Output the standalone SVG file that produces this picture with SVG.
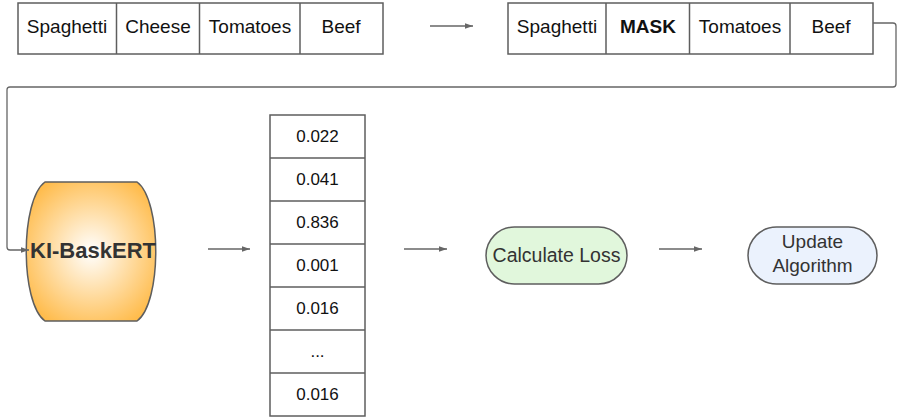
<svg xmlns="http://www.w3.org/2000/svg" width="898" height="420" viewBox="0 0 898 420">
<style>
.box{fill:#ffffff;stroke:#5e5e5e;stroke-width:1.5}
.t{font-family:"Liberation Sans",Arial,sans-serif;font-size:19px;fill:#111;text-anchor:middle}
.n{font-family:"Liberation Sans",Arial,sans-serif;font-size:17px;fill:#111;text-anchor:middle}
.c{fill:none;stroke:#666;stroke-width:1.3}
</style>
<defs>
<marker id="ah" viewBox="0 0 10 10" refX="10" refY="5" markerWidth="8" markerHeight="8" markerUnits="userSpaceOnUse" orient="auto">
<path d="M0,1.5 L10,5 L0,8.5 Z" fill="#666"/>
</marker>
<radialGradient id="og" cx="0.5" cy="0.5" r="0.6">
<stop offset="0" stop-color="#ffffff"/>
<stop offset="1" stop-color="#ffbb4a"/>
</radialGradient>
</defs>
<g id="input-sequence">
<rect class="box" x="18" y="3" width="365" height="51"/>
<line class="box" x1="116.5" y1="3" x2="116.5" y2="54"/>
<line class="box" x1="199.5" y1="3" x2="199.5" y2="54"/>
<line class="box" x1="300" y1="3" x2="300" y2="54"/>
<text class="t" x="67" y="33">Spaghetti</text>
<text class="t" x="158" y="33">Cheese</text>
<text class="t" x="250" y="33">Tomatoes</text>
<text class="t" x="341" y="33">Beef</text>
</g>
<g id="masked-sequence">
<rect class="box" x="508" y="3" width="365" height="51"/>
<line class="box" x1="606" y1="3" x2="606" y2="54"/>
<line class="box" x1="689.5" y1="3" x2="689.5" y2="54"/>
<line class="box" x1="790" y1="3" x2="790" y2="54"/>
<text class="t" x="557" y="33">Spaghetti</text>
<text class="t" x="648" y="33" font-weight="bold">MASK</text>
<text class="t" x="740" y="33">Tomatoes</text>
<text class="t" x="831" y="33">Beef</text>
</g>
<g id="ki-baskert">
<path d="M45,182 H137 C162,200 162,303 137,321 H45 C20,303 20,200 45,182 Z" fill="url(#og)" stroke="#5e5e5e" stroke-width="1.5"/>
<text x="93" y="258" font-family="Liberation Sans,Arial,sans-serif" font-size="22" font-weight="bold" fill="#333" text-anchor="middle">KI-BaskERT</text>
</g>
<g id="probabilities">
<rect class="box" x="270" y="115" width="95" height="301"/>
<line class="box" x1="270" y1="158" x2="365" y2="158"/>
<line class="box" x1="270" y1="201" x2="365" y2="201"/>
<line class="box" x1="270" y1="244" x2="365" y2="244"/>
<line class="box" x1="270" y1="287" x2="365" y2="287"/>
<line class="box" x1="270" y1="330" x2="365" y2="330"/>
<line class="box" x1="270" y1="373" x2="365" y2="373"/>
<text class="n" x="317.5" y="142">0.022</text>
<text class="n" x="317.5" y="185">0.041</text>
<text class="n" x="317.5" y="228">0.836</text>
<text class="n" x="317.5" y="271">0.001</text>
<text class="n" x="317.5" y="314">0.016</text>
<text class="n" x="317.5" y="357">...</text>
<text class="n" x="317.5" y="400">0.016</text>
</g>
<g id="calculate-loss">
<rect x="486" y="227" width="141" height="57" rx="28.5" fill="#e1f7dc" stroke="#5e5e5e" stroke-width="1.5"/>
<text x="556.5" y="261.5" font-family="Liberation Sans,Arial,sans-serif" font-size="19.5" fill="#333" text-anchor="middle">Calculate Loss</text>
</g>
<g id="update-algorithm">
<rect x="748" y="227" width="129" height="57" rx="28.5" fill="#ebf2fd" stroke="#5e5e5e" stroke-width="1.5"/>
<text x="812.5" y="247.5" font-family="Liberation Sans,Arial,sans-serif" font-size="19" fill="#333" text-anchor="middle">Update</text>
<text x="812.5" y="272" font-family="Liberation Sans,Arial,sans-serif" font-size="19" fill="#333" text-anchor="middle">Algorithm</text>
</g>
<g id="connectors">
<line class="c" x1="430" y1="26" x2="473" y2="26" marker-end="url(#ah)"/>
<path class="c" d="M873,23 H893 Q896,23 896,26 V84 Q896,87 893,87 H10 Q7,87 7,90 V247 Q7,250 10,250 H29" marker-end="url(#ah)"/>
<line class="c" x1="208" y1="249" x2="250" y2="249" marker-end="url(#ah)"/>
<line class="c" x1="404" y1="249" x2="447" y2="249" marker-end="url(#ah)"/>
<line class="c" x1="659" y1="249" x2="702" y2="249" marker-end="url(#ah)"/>
</g>
</svg>
